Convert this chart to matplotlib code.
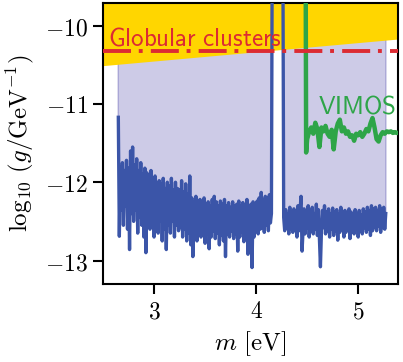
import numpy as np
import matplotlib
matplotlib.use("Agg")
import matplotlib.pyplot as plt

plt.rcParams["mathtext.fontset"] = "cm"

# ------------------------------------------------------------------
# Data
# ------------------------------------------------------------------

# blue limit, sampled every 0.01 eV from 2.65 to 5.27 eV
blue_lo_m, blue_hi_m = 2.65, 5.27
blue_seg1 = [  # 2.65 .. 4.15
    -11.17, -12.69, -11.80, -12.35, -11.75, -12.55, -11.85, -12.30, -11.72, -12.60,
    -11.82, -12.86, -11.60, -12.40, -11.55, -12.50, -11.78, -12.35, -11.70, -12.65,
    -11.85, -12.45, -11.75, -12.55, -11.90, -12.70, -11.82, -12.90, -11.88, -12.50,
    -11.95, -12.60, -11.85, -12.45, -12.00, -12.70, -11.92, -12.55, -12.05, -12.65,
    -11.98, -12.50, -12.02, -12.75, -11.95, -12.60, -12.08, -12.86, -12.00, -12.55,
    -12.05, -12.65, -11.95, -12.50, -12.10, -12.70, -12.00, -12.55, -12.08, -12.62,
    -12.10, -12.58, -11.98, -12.70, -12.12, -12.60, -12.02, -12.75, -12.15, -12.65,
    -11.92, -12.80, -12.20, -12.95, -12.25, -12.65, -12.18, -12.75, -12.28, -12.60,
    -12.22, -12.70, -12.30, -12.62, -12.20, -12.78, -12.28, -12.66, -12.25, -12.85,
    -12.30, -12.70, -12.22, -12.62, -12.18, -12.72, -12.25, -12.65, -12.30, -12.80,
    -12.24, -12.68, -12.28, -12.75, -12.22, -12.95, -12.30, -12.66, -12.26, -12.70,
    -12.32, -12.62, -12.25, -12.72, -12.30, -12.66, -12.28, -12.88, -12.24, -12.70,
    -12.30, -12.64, -12.26, -12.76, -12.32, -12.68, -12.22, -12.92, -12.30, -12.66,
    -12.28, -13.09, -12.25, -12.70, -12.30, -12.62, -12.24, -12.66, -12.20, -12.60,
    -12.13, -12.58, -12.22, -12.64, -12.18, -12.55, -12.20, -12.62, -12.16, -12.52,
    -12.40,
]
blue_gap = [-8.0] * 11  # 4.16 .. 4.26, limit runs off the top
blue_seg2 = [  # 4.27 .. 5.27
    -12.45, -12.62, -12.35, -12.58, -12.40, -12.66, -12.32, -12.60, -12.38, -12.64,
    -12.34, -12.58, -12.40, -12.70, -12.30, -12.62, -12.36, -12.18, -12.88, -12.60,
    -12.34, -12.66, -12.38, -12.58, -12.30, -12.70, -12.36, -12.62, -12.32, -12.66,
    -12.40, -12.60, -12.28, -12.68, -12.35, -12.72, -13.08, -12.62, -12.36, -12.58,
    -12.30, -12.66, -12.38, -12.62, -12.34, -12.70, -12.40, -12.60, -12.33, -12.68,
    -12.38, -12.62, -12.35, -12.74, -12.40, -12.64, -12.32, -12.60, -12.38, -12.70,
    -12.36, -12.64, -12.42, -12.60, -12.34, -12.72, -12.38, -12.62, -12.40, -12.66,
    -12.35, -12.60, -12.40, -12.70, -12.36, -12.62, -12.42, -12.66, -12.34, -12.58,
    -12.38, -12.64, -12.32, -12.60, -12.36, -12.68, -12.30, -12.62, -12.34, -12.58,
    -12.32, -12.62, -12.36, -12.56, -12.30, -12.64, -12.34, -12.58, -12.32, -12.60,
    -12.40,
]

# VIMOS limit
vimos_m = [4.485, 4.49, 4.50, 4.52, 4.54, 4.56, 4.58, 4.60, 4.62, 4.64, 4.66,
           4.68, 4.70, 4.72, 4.74, 4.76, 4.78, 4.80, 4.82, 4.84, 4.86, 4.88,
           4.90, 4.92, 4.94, 4.96, 4.98, 5.00, 5.02, 5.04, 5.06, 5.08, 5.10,
           5.12, 5.14, 5.16, 5.18, 5.20, 5.22, 5.24, 5.26, 5.28, 5.30, 5.32,
           5.34, 5.36, 5.38, 5.40]
vimos_g = [-9.0, -11.62, -11.45, -11.35, -11.30, -11.38, -11.24, -11.32, -11.55,
           -11.30, -11.35, -11.28, -11.38, -11.42, -11.33, -11.58, -11.35, -11.25,
           -11.20, -11.35, -11.30, -11.38, -11.35, -11.42, -11.40, -11.47, -11.38,
           -11.40, -11.36, -11.42, -11.38, -11.32, -11.35, -11.25, -11.18, -11.30,
           -11.45, -11.48, -11.40, -11.36, -11.38, -11.35, -11.36, -11.35, -11.37,
           -11.36, -11.37, -11.37]

# globular cluster bound
glob_m = [2.5, 5.39]
glob_edge = [-10.51, -10.17]
glob_line = -10.32

xticks = [3, 4, 5]
xtick_labels = [r"$3$", r"$4$", r"$5$"]
yticks = [-13, -12, -11, -10]
ytick_labels = [r"$-13$", r"$-12$", r"$-11$", r"$-10$"]

# ------------------------------------------------------------------
# Plot
# ------------------------------------------------------------------
blue_g = np.array(blue_seg1 + blue_gap + blue_seg2)
blue_m = np.linspace(blue_lo_m, blue_hi_m, len(blue_g))

ymin, ymax = -13.3, -9.71

fig = plt.figure(figsize=(4.03, 3.62), dpi=100)
ax = fig.add_axes([0.2556, 0.2155, 0.7320, 0.7762])

ax.fill_between(blue_m, blue_g, ymax, color="#cdcbe7", edgecolor="#aaa7d6",
                linewidth=1.0, zorder=1)
ax.fill_between(glob_m, glob_edge, ymax, color="#ffd600", linewidth=0, zorder=2)
ax.plot(blue_m, blue_g, color="#3b55a8", lw=2.4, zorder=3)
ax.plot(vimos_m, vimos_g, color="#2ea548", lw=3.2, zorder=3)
ax.axhline(glob_line, color="#dc2b33", lw=2.8,
           linestyle=(0, (7.2, 2.0, 1.0, 2.1)), zorder=4)

ax.text(2.55, -10.25, r"$\mathsf{Globular\ clusters}$", color="#dc2b33",
        fontsize=18, zorder=5)
ax.text(4.61, -11.12, r"$\mathsf{VIMOS}$", color="#2ea548", fontsize=18, zorder=5)

ax.set_xlim(2.5, 5.39)
ax.set_ylim(ymin, ymax)
ax.set_xticks(xticks)
ax.set_xticklabels(xtick_labels, fontsize=17)
ax.set_yticks(yticks)
ax.set_yticklabels(ytick_labels, fontsize=17)
ax.tick_params(direction="out", length=7, width=1.5, pad=4)
for sp in ax.spines.values():
    sp.set_linewidth(1.5)

ax.set_xlabel(r"$m\ [\mathrm{eV}]$", fontsize=18, labelpad=4)
ax.set_ylabel(r"$\log_{10}\,(g/\mathrm{GeV}^{-1})$", fontsize=18, labelpad=6)

fig.savefig("out.png", dpi=100)
